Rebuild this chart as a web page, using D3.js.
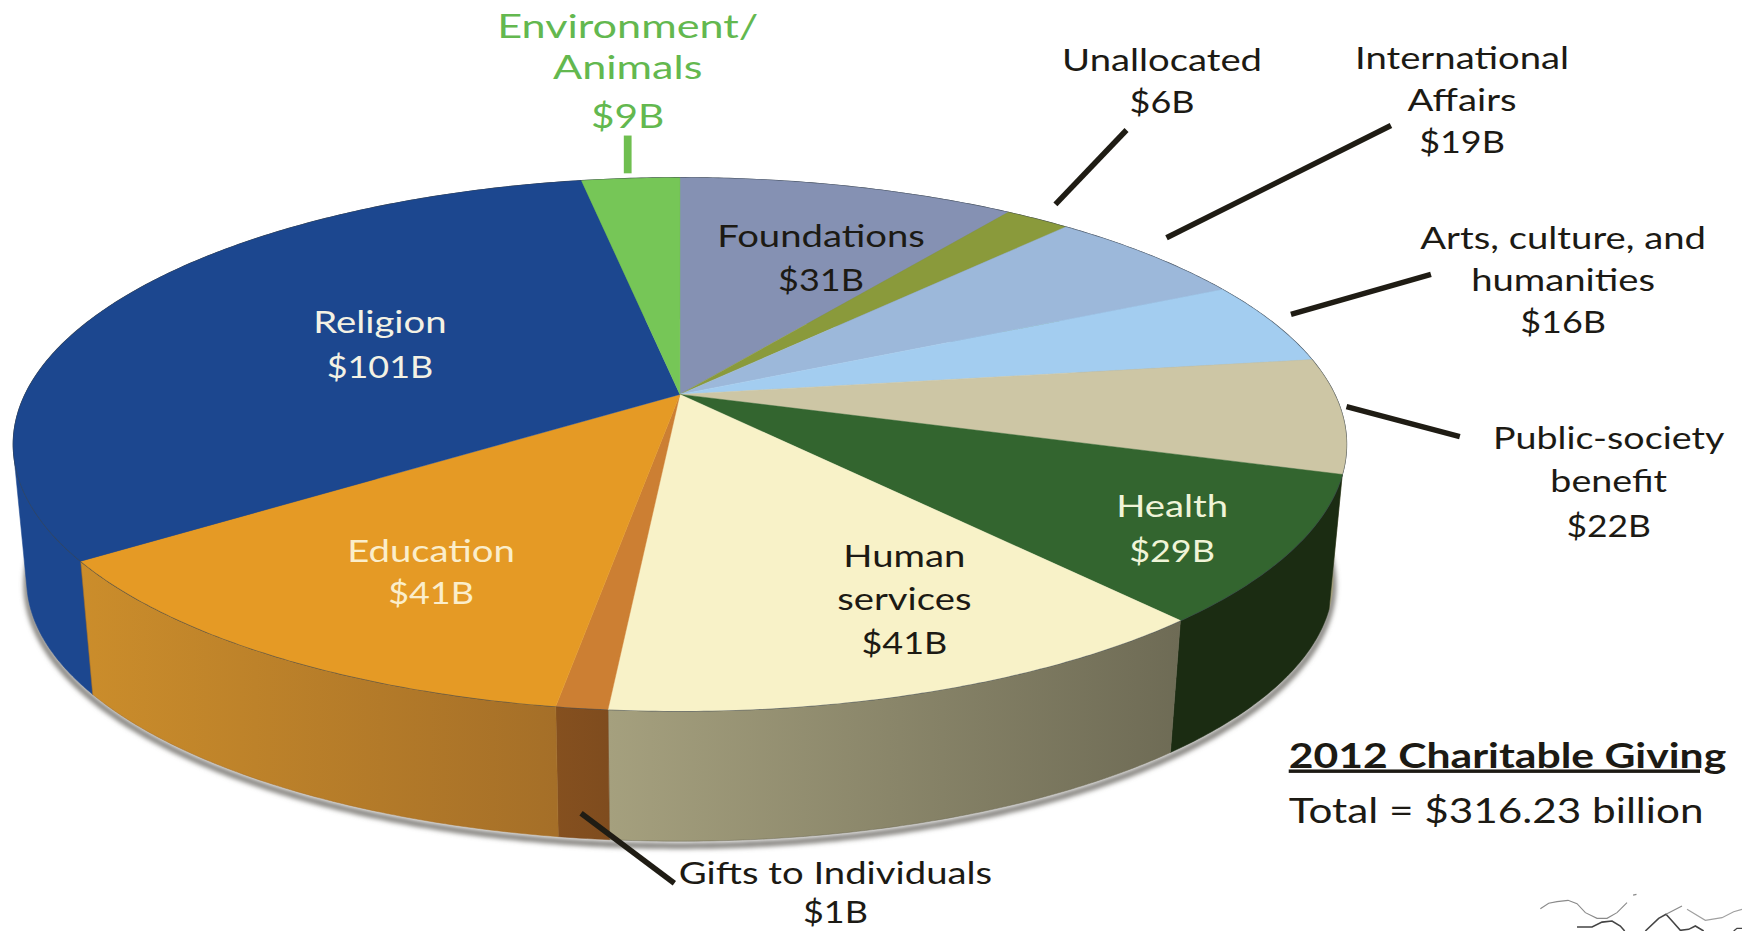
<!DOCTYPE html>
<html>
<head>
<meta charset="utf-8">
<script src="https://d3js.org/d3.v7.min.js"></script>
<style>
  html, body { margin: 0; padding: 0; background: #fff; }
  svg { display: block; }
  text { font-family: Lato, "Open Sans", sans-serif; }
</style>
</head>
<body>
<div id="pie"></div>
<script>
// clockwise from 12 o'clock
const categories = ['Foundations', 'Unallocated', 'International Affairs', 'Arts, culture, and humanities',
  'Public-society benefit', 'Health', 'Human services', 'Gifts to Individuals', 'Education', 'Religion', 'Environment/Animals'];
// $ billions as printed on the labels
const values = [31, 6, 19, 16, 22, 29, 41, 1, 41, 101, 9];
// wedge sizes as the picture draws them, Gifts is drawn a lot wider than its $1B
const wedgeSizes = [31, 6, 19, 16, 22, 28, 40.5, 3.3, 40.2, 101, 9];

const topColors = ['#8591b3', '#8a9a3b', '#9cb8da', '#a3cdf0', '#cdc6a5', '#33652f', '#f8f2c8', '#cc7f33', '#e59a25', '#1c478f', '#76c657'];
const sideLight = ['#6c7690', '#6f7c30', '#7f95b0', '#84a6c2', '#a5a07e', '#1b2c12', '#a5a07e', '#85501f', '#cb8d2b', '#1c478f', '#5fa046'];
const sideDark  = ['#6c7690', '#6f7c30', '#7f95b0', '#84a6c2', '#a5a07e', '#1b2c12', '#6e6b55', '#7f4c1e', '#a56f28', '#1c478f', '#5fa046'];

// drawn in the shrunk 1568x838 frame, scaled up by the viewBox
let width = 1568;
let height = 838;

let cx = 612, cy = 400, rx = 600, ry = 240;  // top face ellipse
let apexShift = -0.1875;                     // apex sits above the ellipse centre
let bottomScale = 0.98, bottomCy = 522;      // bottom face

let svg = d3.select('#pie')
  .append('svg')
  .attr('width', 1742)
  .attr('height', 931)
  .attr('viewBox', [0, 0, width, height].join(' '))
  .style('background-color', '#fff');

let defs = svg.append('defs');

let blur = defs.append('filter').attr('id', 'blur')
  .attr('x', '-5%').attr('y', '-5%').attr('width', '110%').attr('height', '110%');
blur.append('feGaussianBlur').attr('stdDeviation', 2.5);

let xNorm = d3.scaleLinear().domain([-1, 1]).range([cx - rx, cx + rx]);
let yNorm = d3.scaleLinear().domain([-1, 1]).range([cy - ry, cy + ry]);
let xNormB = d3.scaleLinear().domain([-1, 1]).range([cx - rx * bottomScale, cx + rx * bottomScale]);
let yNormB = d3.scaleLinear().domain([-1, 1]).range([bottomCy - ry * bottomScale, bottomCy + ry * bottomScale]);

// projective map of the disc, so wedges stay straight and meet at the apex
function project(a) {
  let u = Math.sin(a), v = -Math.cos(a);
  let w = 1 + apexShift * v;
  return [u * Math.sqrt(1 - apexShift * apexShift) / w, (v + apexShift) / w];
}
function topPoint(a) { let p = project(a); return [xNorm(p[0]), yNorm(p[1])]; }
function bottomPoint(a) { let p = project(a); return [xNormB(p[0]), yNormB(p[1])]; }

let pie = d3.pie().sort(null).startAngle(0).endAngle(2 * Math.PI);
let slices = pie(wedgeSizes);
let color = d3.scaleOrdinal().domain(categories).range(topColors);
let line = d3.line();

function arcPoints(a0, a1, fn) {
  let n = Math.max(2, Math.ceil((a1 - a0) / 0.01));
  return d3.range(n + 1).map(i => fn(a0 + (a1 - a0) * i / n));
}

// soft shadow under the outer edge
let outline = arcPoints(Math.PI * 0.45, Math.PI * 1.55, bottomPoint);
svg.append('path')
  .attr('d', line(outline))
  .attr('transform', 'translate(0,4)')
  .attr('fill', 'none')
  .attr('stroke', '#77756f')
  .attr('stroke-width', 5)
  .attr('filter', 'url(#blur)');

// side walls, back ones get covered by the top face
slices.forEach((d, i) => {
  let id = 'side' + i;
  let xs = arcPoints(d.startAngle, d.endAngle, topPoint).map(p => p[0]);
  let g = defs.append('linearGradient').attr('id', id)
    .attr('gradientUnits', 'userSpaceOnUse')
    .attr('x1', d3.min(xs)).attr('x2', d3.max(xs)).attr('y1', 0).attr('y2', 0);
  g.append('stop').attr('offset', 0).attr('stop-color', sideLight[i]);
  g.append('stop').attr('offset', 1).attr('stop-color', sideDark[i]);
});

// Religion goes first as a hull, that fills the notch at the far left
let religion = categories.indexOf('Religion');
let wallOrder = [religion].concat(d3.range(slices.length).filter(i => i !== religion));

svg.append('g').selectAll('path')
  .data(wallOrder)
  .enter().append('path')
  .attr('d', i => {
    let d = slices[i];
    let t = arcPoints(d.startAngle, d.endAngle, topPoint);
    let b = arcPoints(d.startAngle, d.endAngle, bottomPoint);
    if (i === religion) return line(d3.polygonHull(t.concat(b))) + 'Z';
    return line(t.concat(b.reverse())) + 'Z';
  })
  .attr('fill', i => `url(#side${i})`)
  .attr('stroke', i => sideDark[i])
  .attr('stroke-width', 0.5);

// top face
svg.append('path')
  .attr('d', line(arcPoints(0, 2 * Math.PI, topPoint)) + 'Z')
  .attr('fill', 'none')
  .attr('stroke', '#3c4650')
  .attr('stroke-width', 1.2);

svg.append('g').selectAll('path')
  .data(slices)
  .enter().append('path')
  .attr('d', d => line([[xNorm(0), yNorm(apexShift)]].concat(arcPoints(d.startAngle, d.endAngle, topPoint))) + 'Z')
  .attr('fill', (d, i) => color(categories[i]))
  .attr('stroke', (d, i) => color(categories[i]))
  .attr('stroke-width', 0.4);

// leader lines
const leaders = [
  { from: [565, 122], to: [565, 156], stroke: '#6fbf50', w: 7 },
  { from: [1014, 117], to: [950, 184], stroke: '#1f1c14', w: 5 },
  { from: [1252, 113], to: [1050, 214], stroke: '#1f1c14', w: 5 },
  { from: [1288, 247], to: [1162, 283], stroke: '#1f1c14', w: 5 },
  { from: [1314, 393], to: [1212, 366], stroke: '#1f1c14', w: 5 },
  { from: [607, 795], to: [523, 732], stroke: '#1f1c14', w: 5 }
];
svg.append('g').selectAll('line')
  .data(leaders)
  .enter().append('line')
  .attr('x1', d => d.from[0]).attr('y1', d => d.from[1])
  .attr('x2', d => d.to[0]).attr('y2', d => d.to[1])
  .attr('stroke', d => d.stroke)
  .attr('stroke-width', d => d.w);

// labels: lines of text with the baseline of each, the scan's type is stretched sideways
const money = i => '$' + values[i] + 'B';
const labels = [
  { lines: ['Environment/', 'Animals', money(10)], x: 565, y: [34, 71, 115], fill: '#63b84f', size: 29, stretch: 1.34 },
  { lines: ['Unallocated', money(1)], x: 1046, y: [64, 102], fill: '#1c1a14', size: 28, stretch: 1.23 },
  { lines: ['International', 'Affairs', money(2)], x: 1316, y: [62, 100, 138], fill: '#1c1a14', size: 28, stretch: 1.23 },
  { lines: ['Arts, culture, and', 'humanities', money(3)], x: 1407, y: [224, 262, 300], fill: '#1c1a14', size: 28, stretch: 1.23 },
  { lines: ['Public-society', 'benefit', money(4)], x: 1448, y: [404, 443, 483], fill: '#1c1a14', size: 28, stretch: 1.21 },
  { lines: ['Foundations', money(0)], x: 739, y: [222, 262], fill: '#1c1a14', size: 28, stretch: 1.23 },
  { lines: ['Religion', money(9)], x: 342, y: [300, 340], fill: '#f4f2e4', size: 28, stretch: 1.23 },
  { lines: ['Health', money(5)], x: 1055, y: [465, 506], fill: '#f0f4d8', size: 28, stretch: 1.23 },
  { lines: ['Education', money(8)], x: 388, y: [506, 544], fill: '#fbeecb', size: 28, stretch: 1.23 },
  { lines: ['Human', 'services', money(6)], x: 814, y: [510, 549, 589], fill: '#1c1a14', size: 28, stretch: 1.23 },
  { lines: ['Gifts to Individuals', money(7)], x: 752, y: [796, 831], fill: '#1c1a14', size: 28, stretch: 1.23 }
];
labels.forEach(l => {
  svg.append('g').selectAll('text')
    .data(l.lines)
    .enter().append('text')
    // dollar lines run a little narrower than the words
    .attr('transform', (d, i) => `translate(${l.x},${l.y[i]}) scale(${d[0] === '$' ? l.stretch * 0.94 : l.stretch},1)`)
    .attr('text-anchor', 'middle')
    .attr('fill', l.fill)
    .style('font-size', l.size + 'px')
    .text(d => d);
});

svg.append('text')
  .attr('transform', 'translate(1160,691) scale(1.24,1)')
  .attr('fill', '#1c1a14')
  .style('font-size', '31px')
  .style('font-weight', 'bold')
  .style('text-decoration', 'underline')
  .text('2012 Charitable Giving');

svg.append('text')
  .attr('transform', 'translate(1160,741) scale(1.227,1)')
  .attr('fill', '#1c1a14')
  .style('font-size', '31px')
  .text('Total = $316.23 billion');

// scribble in the bottom right corner of the scan
const scribbles = [
  { pts: [[1386.5, 818], [1394, 813], [1401.5, 811.6], [1411.4, 810.4], [1419.5, 813.4], [1427, 821.5], [1437.5, 826.6], [1446.5, 826.6], [1455.5, 821.5], [1464.5, 812.5]], stroke: '#8a8a8a', w: 1 },
  { pts: [[1470, 805.8], [1473, 805]], stroke: '#8a8a8a', w: 1.2 },
  { pts: [[1419.5, 834.4], [1433, 834.4], [1442, 830], [1451, 829], [1458.5, 833.5], [1462.4, 838]], stroke: '#444', w: 1.4 },
  { pts: [[1481, 838], [1493, 826.6], [1499.6, 823], [1506.5, 830.5], [1512.5, 837.4], [1520, 836.5], [1526, 833.5], [1533.5, 838]], stroke: '#444', w: 1.4 },
  { pts: [[1499.6, 823], [1514, 815.5]], stroke: '#8a8a8a', w: 1 },
  { pts: [[1518.5, 818.5], [1535, 828.4], [1550, 826], [1560.5, 820.6], [1568, 818.5]], stroke: '#a0a0a0', w: 1 },
  { pts: [[1560.5, 838], [1563.5, 835.6], [1568, 835.6]], stroke: '#444', w: 1.2 }
];
svg.append('g').selectAll('path')
  .data(scribbles)
  .enter().append('path')
  .attr('d', d => line(d.pts))
  .attr('fill', 'none')
  .attr('stroke', d => d.stroke)
  .attr('stroke-width', d => d.w);
</script>
</body>
</html>
